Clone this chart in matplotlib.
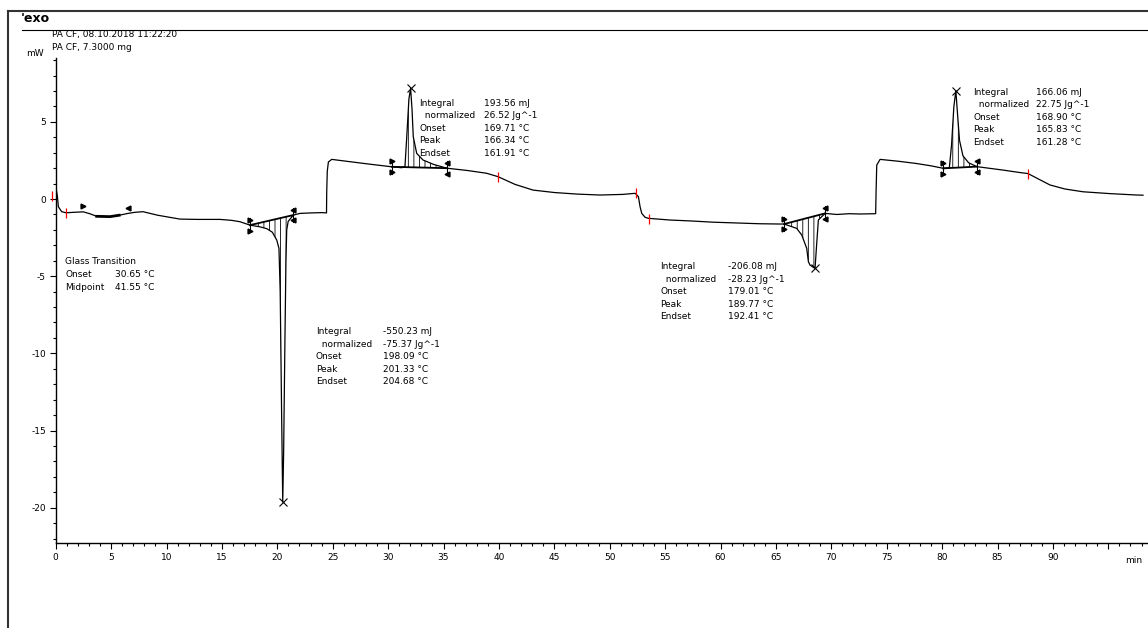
import numpy as np
import matplotlib
matplotlib.use('Agg')
import matplotlib.pyplot as plt
from matplotlib.lines import Line2D
from matplotlib.ticker import MultipleLocator, FixedLocator

plt.rcParams['font.family'] = ['DejaVu Sans']
plt.rcParams['axes.unicode_minus'] = False
plt.rcParams['hatch.linewidth'] = 0.6

W, H = 1148, 628

# DSC curve (time in min, heat flow in mW)
heat1_t = [0.00, 0.05, 0.15, 0.24, 0.54, 0.93, 1.64, 2.49, 3.07, 3.70, 4.90, 5.73,
           6.53, 7.16, 7.88, 9.21, 11.22, 12.79, 14.83, 15.86, 16.63, 17.53, 18.42,
           19.05, 19.55, 19.95, 20.15, 20.26, 20.39, 20.49, 20.57, 20.69, 20.78,
           20.85, 20.98, 21.44, 22.05, 23.03, 24.05, 24.44]
heat1_mw = [0.70, 0.62, 0.20, -0.50, -0.82, -0.89, -0.86, -0.83, -0.95, -1.12, -1.14, -1.05,
            -0.93, -0.86, -0.82, -1.05, -1.30, -1.32, -1.32, -1.38, -1.47, -1.69, -1.80,
            -1.92, -2.15, -2.66, -3.20, -6.00, -14.00, -19.62, -16.50, -9.00, -4.00,
            -2.00, -1.45, -1.04, -0.93, -0.90, -0.88, -0.90]

cool1_t = [24.46, 24.51, 24.61, 24.91, 26.56, 28.45, 30.33, 31.22, 31.52, 31.68, 31.88,
           32.03, 32.16, 32.27, 32.58, 33.15, 34.08, 35.29, 37.15, 38.89, 39.92, 41.45,
           43.08, 45.03, 47.08, 49.13, 51.17, 52.29]
cool1_mw = [0.50, 1.80, 2.40, 2.57, 2.42, 2.25, 2.09, 2.03, 2.10, 4.00, 6.50,
            7.17, 5.80, 4.04, 2.96, 2.53, 2.25, 2.00, 1.85, 1.67, 1.45, 0.95,
            0.58, 0.42, 0.32, 0.26, 0.30, 0.37]

heat2_t = [52.40, 52.59, 52.74, 52.89, 53.19, 53.49, 55.44, 57.31, 59.33, 61.41, 63.46,
           65.38, 65.74, 66.87, 67.33, 67.78, 67.93, 68.08, 68.32, 68.53, 68.67, 68.83,
           69.14, 69.43, 70.49, 71.64, 72.59, 74.00]
heat2_mw = [0.30, 0.15, -0.50, -0.93, -1.18, -1.25, -1.36, -1.42, -1.50, -1.55, -1.60,
            -1.62, -1.62, -1.90, -2.33, -3.20, -4.06, -4.28, -4.40, -4.49, -3.00, -1.36,
            -1.14, -0.93, -1.00, -0.95, -0.97, -0.95]

cool2_t = [74.04, 74.10, 74.40, 76.04, 77.71, 79.01, 80.11, 80.65, 80.85, 81.06, 81.24,
           81.39, 81.57, 81.88, 82.39, 83.13, 85.46, 86.99, 87.75, 88.74, 89.74, 91.09,
           92.72, 95.18, 97.57, 98.13]
cool2_mw = [0.50, 2.20, 2.57, 2.45, 2.30, 2.15, 1.99, 2.02, 3.50, 6.00, 7.02,
            5.50, 3.80, 2.80, 2.35, 2.10, 1.88, 1.72, 1.65, 1.28, 0.91, 0.65,
            0.47, 0.35, 0.26, 0.25]

# peak evaluations
onset_t = [17.53, 30.33, 65.74, 80.11]
onset_mw = [-1.69, 2.09, -1.62, 1.99]
endset_t = [21.44, 35.29, 69.43, 83.13]
endset_mw = [-1.04, 2.00, -0.93, 2.10]
peak_t = [20.49, 32.03, 68.53, 81.24]
peak_mw = [-19.62, 7.17, -4.49, 7.02]
integral = ['-550.23 mJ', '193.56 mJ', '-206.08 mJ', '166.06 mJ']
normalized = ['-75.37 Jg^-1', '26.52 Jg^-1', '-28.23 Jg^-1', '22.75 Jg^-1']
onset_c = ['198.09 °C', '169.71 °C', '179.01 °C', '168.90 °C']
peak_c = ['201.33 °C', '166.34 °C', '189.77 °C', '165.83 °C']
endset_c = ['204.68 °C', '161.91 °C', '192.41 °C', '161.28 °C']

# glass transition
tg_limits_t = [2.49, 6.53]
tg_limits_mw = [-0.83, -0.93]
tg_onset = '30.65 °C'
tg_midpoint = '41.55 °C'

# segment limit marks (red)
red_t = [-0.29, 0.93, 39.92, 52.35, 53.58, 87.75]
red_mw = [0.17, -0.90, 1.45, 0.38, -1.30, 1.65]

t = np.array(heat1_t + cool1_t + heat2_t + cool2_t)
mw = np.array(heat1_mw + cool1_mw + heat2_mw + cool2_mw)

fig = plt.figure(figsize=(W / 100, H / 100), dpi=100)
ax = fig.add_axes([55.7 / W, 1 - 543.3 / H, 1 - 55.7 / W, (543.3 - 58) / H])
ax.set_xlim(0, 98.58)
ax.set_ylim(-22.31, 9.14)

ax.plot(t, mw, color='black', lw=0.9)

# hatched peak areas and baselines
for i in range(4):
    m = (t > onset_t[i]) & (t < endset_t[i])
    tt = np.concatenate([[onset_t[i]], t[m], [endset_t[i]]])
    cc = np.concatenate([[onset_mw[i]], mw[m], [endset_mw[i]]])
    base = np.interp(tt, [onset_t[i], endset_t[i]], [onset_mw[i], endset_mw[i]])
    ax.fill_between(tt, cc, base, facecolor='none', edgecolor='black',
                    hatch='|||', linewidth=0)
    ax.plot([onset_t[i], endset_t[i]], [onset_mw[i], endset_mw[i]],
            color='black', lw=1.3)
    for x, y, mk in [(onset_t[i], onset_mw[i], '>'), (endset_t[i], endset_mw[i], '<')]:
        ax.plot([x, x], [y - 0.45, y + 0.45], color='black', lw=0.8)
        ax.plot([x, x], [y + 0.35, y - 0.35], ls='none', marker=mk, ms=3.5,
                color='black')

ax.plot(peak_t, peak_mw, 'x', ms=6, mew=0.8, color='black')

# glass transition marks
gm = (t >= 3.38) & (t <= 5.73)
ax.plot(t[gm], mw[gm], color='black', lw=2)
ax.plot(tg_limits_t[0], tg_limits_mw[0] + 0.35, marker='>', ms=3.5, color='black')
ax.plot(tg_limits_t[1], tg_limits_mw[1] + 0.35, marker='<', ms=3.5, color='black')

ax.plot(red_t, red_mw, '|', color='red', ms=7, mew=0.9, clip_on=False)

# axes styling
for s in ['top', 'right']:
    ax.spines[s].set_visible(False)
for s in ['left', 'bottom']:
    ax.spines[s].set_linewidth(1.0)
ax.xaxis.set_major_locator(FixedLocator(list(range(0, 96, 5))))
ax.set_xticklabels([str(v) for v in range(0, 95, 5)] + [''])
ax.xaxis.set_minor_locator(MultipleLocator(1))
ax.yaxis.set_major_locator(MultipleLocator(5))
ax.yaxis.set_minor_locator(MultipleLocator(1))
ax.tick_params(which='major', length=4, width=0.8, direction='out', labelsize=6.5, pad=3)
ax.tick_params(which='minor', length=2.5, width=0.8, direction='out')
ax.text(97.25, -0.026, 'min', transform=ax.get_xaxis_transform(), fontsize=6.5,
        ha='center', va='top')


def ftext(x, y, s, **kw):
    fig.text(x / W, 1 - y / H, s, fontsize=6.5, va='center', ha='left', **kw)


# peak annotation blocks: label x, value x, first row y (pixels)
block_pos = [(316, 383, 331.7), (419, 484.3, 103.3), (660, 727.7, 266.7), (973.3, 1035.7, 92.3)]
row_labels = ['Integral', '  normalized', 'Onset', 'Peak', 'Endset']
for i, (lx, vx, y0) in enumerate(block_pos):
    vals = [integral[i], normalized[i], onset_c[i], peak_c[i], endset_c[i]]
    for r in range(5):
        ftext(lx, y0 + r * 12.5, row_labels[r])
        ftext(vx, y0 + r * 12.5, vals[r])

ftext(65, 261.7, 'Glass Transition')
ftext(65, 274.5, 'Onset')
ftext(115, 274.5, tg_onset)
ftext(65, 287, 'Midpoint')
ftext(115, 287, tg_midpoint)

# header
ftext(51.7, 34.3, 'PA CF, 08.10.2018 11:22:20')
ftext(51.7, 47.8, 'PA CF, 7.3000 mg')
ftext(26, 53, 'mW')
fig.text(21 / W, 1 - 18 / H, "'exo", fontsize=9, fontweight='bold', va='center', ha='left')

fig.add_artist(Line2D([8 / W, 1], [1 - 11 / H, 1 - 11 / H], transform=fig.transFigure,
                      color='#333333', lw=1.5))
fig.add_artist(Line2D([8 / W, 8 / W], [0, 1 - 11 / H], transform=fig.transFigure,
                      color='#333333', lw=1.5))
fig.add_artist(Line2D([21.7 / W, 1], [1 - 30 / H, 1 - 30 / H], transform=fig.transFigure,
                      color='black', lw=0.8))

fig.savefig('out.png', dpi=100)
